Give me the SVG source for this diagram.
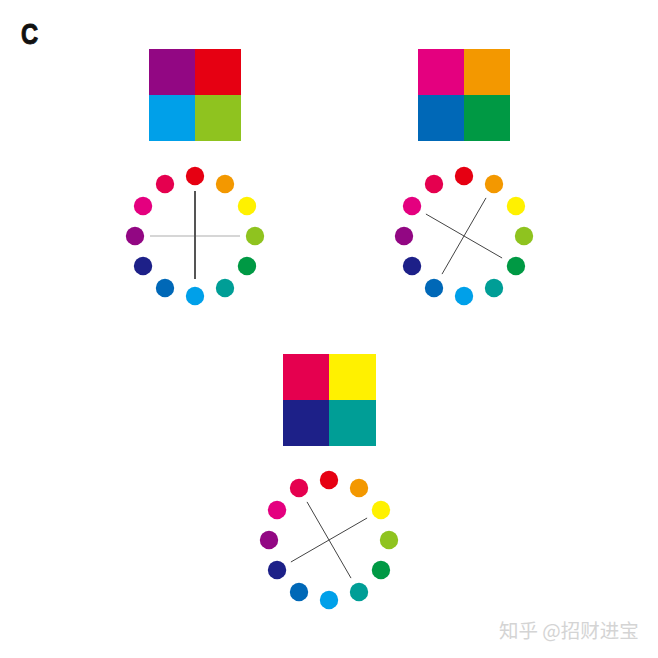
<svg xmlns="http://www.w3.org/2000/svg" xmlns:xlink="http://www.w3.org/1999/xlink" width="658" height="658" viewBox="0 0 658 658">
<style>
.lbl{font-family:"Liberation Sans",Arial,sans-serif;font-weight:bold;font-size:29px;fill:#111;stroke:#111;stroke-width:0.9}
.wm{font-family:"Noto Sans CJK SC","Liberation Sans",sans-serif;font-size:19.5px;fill:#d4d4d4}
.thin{stroke:#444;stroke-width:1;fill:none}
</style>
<defs>
<g id="dots">
<circle cx="0" cy="-60" r="9.2" fill="#e60012"/>
<circle cx="30" cy="-51.96" r="9.2" fill="#f39800"/>
<circle cx="51.96" cy="-30" r="9.2" fill="#fff100"/>
<circle cx="60" cy="0" r="9.2" fill="#8fc31f"/>
<circle cx="51.96" cy="30" r="9.2" fill="#009944"/>
<circle cx="30" cy="51.96" r="9.2" fill="#009e96"/>
<circle cx="0" cy="60" r="9.2" fill="#00a0e9"/>
<circle cx="-30" cy="51.96" r="9.2" fill="#0068b7"/>
<circle cx="-51.96" cy="30" r="9.2" fill="#1d2088"/>
<circle cx="-60" cy="0" r="9.2" fill="#920783"/>
<circle cx="-51.96" cy="-30" r="9.2" fill="#e4007f"/>
<circle cx="-30" cy="-51.96" r="9.2" fill="#e5004f"/>
</g>
</defs>
<rect width="658" height="658" fill="#ffffff"/>
<text class="lbl" transform="translate(21,44) scale(0.82,1)">C</text>

<g id="square1">
<rect x="149" y="49" width="46" height="46" fill="#920783"/>
<rect x="195" y="49" width="46" height="46" fill="#e60012"/>
<rect x="149" y="95" width="46" height="46" fill="#00a0e9"/>
<rect x="195" y="95" width="46" height="46" fill="#8fc31f"/>
</g>
<g id="square2">
<rect x="418" y="49" width="46" height="46" fill="#e4007f"/>
<rect x="464" y="49" width="46" height="46" fill="#f39800"/>
<rect x="418" y="95" width="46" height="46" fill="#0068b7"/>
<rect x="464" y="95" width="46" height="46" fill="#009944"/>
</g>
<g id="square3">
<rect x="283" y="354" width="46" height="46" fill="#e5004f"/>
<rect x="329" y="354" width="47" height="46" fill="#fff100"/>
<rect x="283" y="400" width="46" height="46" fill="#1d2088"/>
<rect x="329" y="400" width="47" height="46" fill="#009e96"/>
</g>

<g id="wheel1"><use xlink:href="#dots" href="#dots" transform="translate(195,236)"/></g>
<g id="wheel2"><use xlink:href="#dots" href="#dots" transform="translate(464,236)"/></g>
<g id="wheel3"><use xlink:href="#dots" href="#dots" transform="translate(329,540)"/></g>

<g id="connectors">
<line x1="150" y1="236" x2="240" y2="236" stroke="#c8c8c8" stroke-width="1.5"/>
<line x1="195" y1="191" x2="195" y2="279" stroke="#555" stroke-width="2"/>
<line class="thin" x1="425.9" y1="214" x2="502.1" y2="258"/>
<line class="thin" x1="486" y1="197.9" x2="442" y2="274.1"/>
<line class="thin" x1="307" y1="501.9" x2="351" y2="578.1"/>
<line class="thin" x1="367.1" y1="518" x2="290.9" y2="562"/>
</g>

<text class="wm" x="499" y="638">知乎 @招财进宝</text>
</svg>
